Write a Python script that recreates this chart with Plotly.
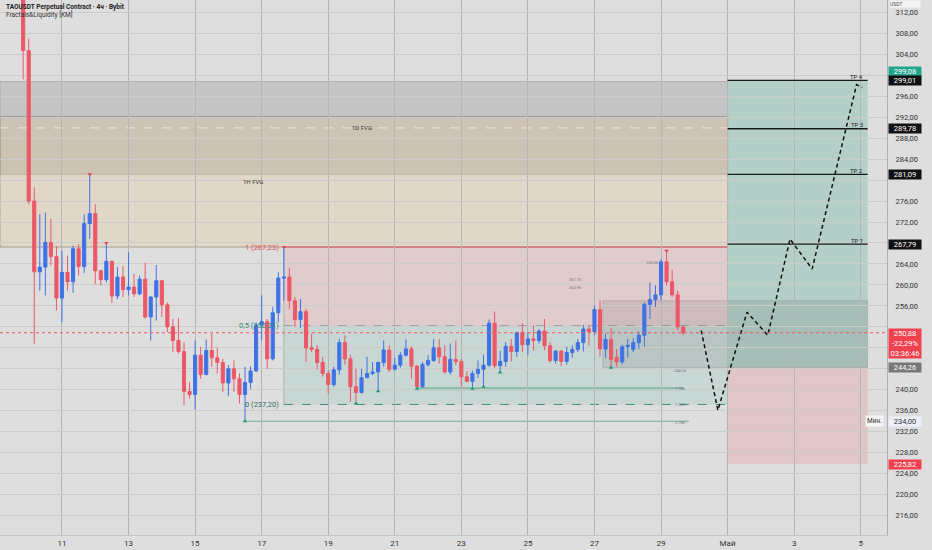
import pandas as pd
import plotly.graph_objects as go

# ---------------- data ----------------
bar_start = "2025-04-09 20:00"
opens = [317.0, 304.7, 276.0, 262.5, 263.4, 268.1, 265.4, 257.5, 262.4, 260.6,
         266.9, 263.5, 271.7, 273.6, 262.7, 261.0, 264.5, 257.9, 261.5, 259.1,
         259.6, 258.3, 261.1, 253.9, 257.7, 260.8, 256.2, 252.0, 249.4, 247.3,
         239.7, 239.1, 246.6, 242.9, 247.5, 246.1, 245.2, 241.3, 244.0, 242.1,
         239.1, 241.4, 243.6, 252.3, 253.0, 245.9, 254.7, 261.3, 261.5, 257.0,
         253.4, 254.9, 248.0, 247.7, 245.2, 243.1, 241.0, 243.8, 249.0, 245.9,
         240.6, 239.5, 242.3, 243.1, 243.4, 245.2, 247.6, 243.9, 244.7, 246.6,
         247.8, 244.5, 240.6, 244.8, 245.6, 248.0, 246.3, 243.4, 245.8, 245.4,
         242.5, 241.6, 243.1, 243.9, 244.7, 252.7, 244.6, 245.4, 248.3, 247.3,
         250.9, 248.6, 249.7, 249.4, 251.2, 248.4, 245.6, 247.4, 245.4, 247.1,
         247.7, 249.0, 251.6, 251.1, 255.3, 247.8, 249.6, 246.2, 245.3, 248.2,
         247.7, 249.0, 250.4, 256.3, 257.2, 258.1, 264.4, 260.6, 258.1, 252.0]
highs = [318.5, 307.0, 278.6, 273.5, 273.8, 272.6, 267.4, 266.5, 265.6, 267.5,
         267.8, 273.5, 281.1, 275.4, 262.9, 268.0, 264.6, 263.4, 263.6, 266.2,
         262.1, 261.8, 264.2, 257.8, 263.8, 260.9, 256.7, 253.5, 253.7, 249.1,
         241.5, 249.4, 248.2, 249.6, 250.7, 248.0, 245.9, 244.7, 245.6, 243.1,
         244.4, 244.5, 252.8, 258.0, 253.5, 255.8, 262.4, 267.23, 263.2, 257.7,
         257.3, 255.4, 250.7, 248.5, 246.3, 243.7, 244.4, 249.7, 250.4, 246.7,
         244.0, 244.0, 246.3, 245.3, 245.4, 249.4, 248.5, 246.1, 247.2, 249.6,
         248.3, 244.7, 245.3, 246.6, 249.7, 249.7, 248.5, 248.8, 249.4, 245.9,
         243.5, 243.7, 245.6, 246.7, 253.4, 254.9, 247.5, 249.1, 249.7, 251.1,
         252.7, 250.9, 252.3, 251.6, 253.5, 249.1, 247.5, 247.5, 248.2, 248.5,
         249.7, 252.4, 252.4, 256.1, 257.0, 250.7, 251.8, 247.8, 248.6, 249.7,
         249.9, 251.1, 256.7, 260.5, 259.9, 264.9, 266.5, 262.9, 258.9, 252.2]
lows = [299.2, 275.4, 248.8, 258.9, 258.0, 263.7, 255.1, 252.9, 258.9, 258.5,
        261.8, 262.3, 268.8, 260.2, 259.9, 260.5, 256.6, 257.3, 257.7, 258.0,
        257.7, 258.0, 253.5, 249.4, 253.2, 253.9, 251.0, 247.2, 246.9, 237.1,
        238.3, 236.3, 242.1, 242.8, 244.4, 243.1, 239.6, 238.8, 239.6, 237.4,
        234.0, 240.2, 243.4, 249.4, 244.0, 245.6, 252.9, 257.0, 255.4, 252.0,
        251.8, 245.3, 247.2, 243.9, 242.5, 239.3, 240.6, 242.9, 244.8, 237.7,
        237.4, 239.3, 242.3, 242.8, 239.7, 244.4, 243.4, 243.7, 244.2, 246.3,
        242.1, 240.2, 240.4, 244.4, 245.3, 245.0, 243.1, 242.9, 244.7, 240.6,
        241.4, 240.2, 242.3, 240.6, 244.4, 244.2, 243.3, 244.4, 245.4, 246.3,
        247.2, 246.6, 247.5, 248.8, 247.5, 245.2, 245.0, 244.5, 244.8, 246.1,
        247.2, 247.3, 248.4, 250.4, 246.3, 246.1, 244.2, 244.4, 244.9, 246.1,
        247.2, 247.8, 248.2, 253.5, 255.8, 257.0, 259.9, 257.7, 251.3, 250.4]
closes = [304.7, 276.0, 262.5, 263.4, 268.1, 265.4, 257.5, 262.4, 260.6, 266.9,
          263.5, 271.7, 273.6, 262.7, 261.0, 264.5, 257.9, 261.5, 259.1, 259.6,
          258.3, 261.1, 253.9, 257.7, 260.8, 256.2, 252.0, 249.4, 247.3, 239.7,
          239.1, 246.6, 242.9, 247.5, 246.1, 245.2, 241.3, 244.0, 242.1, 239.1,
          241.4, 243.6, 252.3, 253.0, 245.9, 254.7, 261.3, 261.5, 257.0, 253.4,
          254.9, 248.0, 247.7, 245.2, 243.1, 241.0, 243.8, 249.0, 245.9, 240.6,
          239.5, 242.3, 243.1, 243.4, 245.2, 247.6, 243.9, 244.7, 246.6, 247.8,
          244.5, 240.6, 244.8, 245.6, 248.0, 246.3, 243.4, 245.8, 245.4, 242.5,
          241.6, 243.1, 243.9, 244.7, 252.7, 244.6, 245.4, 248.3, 247.3, 250.9,
          248.6, 249.7, 249.4, 251.2, 248.4, 245.6, 247.4, 245.4, 247.1, 247.7,
          249.0, 251.6, 251.1, 255.3, 247.8, 249.6, 245.8, 245.3, 248.2, 248.5,
          249.0, 250.4, 256.3, 257.2, 258.1, 264.4, 260.6, 258.1, 252.0, 250.88]

x_range = ["2025-04-09 03:18", "2025-05-05 18:58"]
y_range = [212.3, 314.35]
x_tick_dates = ["2025-04-11", "2025-04-13", "2025-04-15", "2025-04-17", "2025-04-19",
                "2025-04-21", "2025-04-23", "2025-04-25", "2025-04-27", "2025-04-29",
                "2025-05-01", "2025-05-03", "2025-05-05"]
x_tick_text = ["11", "13", "15", "17", "19", "21", "23", "25", "27", "29", "Май", "3", "5"]
y_tick_values = [216, 220, 224, 228, 232, 236, 240, 244, 248, 252, 256, 260, 264,
                 268, 272, 276, 280, 284, 288, 292, 296, 300, 304, 308, 312]
y_tick_hidden = [300, 280, 268, 252, 248, 244]

fvg_1d = [281.1, 298.8]
fvg_1h = [267.23, 292.1]
fvg_end = "2025-05-01 00:00"

fib_prices = [267.23, 252.215, 237.20]
fib_labels = ["1 (267,23)", "0,5 (252,21)", "0 (237,20)"]
fib_start = "2025-04-17 16:00"
fib_end = "2025-05-01 00:00"

pos_start = "2025-05-01 00:00"
pos_end = "2025-05-05 05:00"
entry_price = 244.26
stop_price = 225.82
tp_prices = [267.79, 281.09, 289.78, 299.01]
tp_labels = ["TP 1", "TP 2", "TP 3", "TP 4"]
tp_label_time = "2025-05-04 21:00"

ob_start = "2025-04-27 06:00"
ob_range = [244.26, 257.0]

last_price = 250.88
min_price = 234.0

proj_times = ["2025-04-30 05:00", "2025-04-30 17:00", "2025-05-01 14:00", "2025-05-02 05:00",
              "2025-05-02 21:00", "2025-05-03 13:00", "2025-05-04 21:00", "2025-05-05 01:00"]
proj_prices = [251.3, 236.1, 254.8, 250.4, 268.75, 263.05, 298.2, 297.65]

liq_prices = [240.2, 234.0]
liq_starts = ["2025-04-21 16:00", "2025-04-16 12:00"]
liq_ends = ["2025-04-29 16:00", "2025-04-29 20:00"]
liq_widths = [3, 1]

frac_high_bars = [12, 15, 47, 116]
frac_low_bars = [40, 60, 64, 71, 81, 83, 86, 106]

small_label_times = ["2025-04-26 10:00", "2025-04-26 10:00", "2025-04-28 18:00",
                     "2025-04-29 14:00", "2025-04-29 14:00", "2025-04-29 14:00", "2025-04-29 14:00"]
small_label_prices = [261.0, 259.6, 264.2, 243.6, 240.2, 237.2, 233.8]
small_label_text = ["261.75", "263.96", "256.06", "244.26", "1.786", "2.386", "2.786"]

# ---------------- figure ----------------
times = pd.date_range(bar_start, periods=len(opens), freq="4h")
BG = "#dedede"
FONT = "Roboto"

fig = go.Figure()

fig.add_trace(go.Candlestick(
    x=times, open=opens, high=highs, low=lows, close=closes,
    increasing=dict(line=dict(color="#3f72e4", width=1), fillcolor="#3f72e4"),
    decreasing=dict(line=dict(color="#ec5866", width=1), fillcolor="#ec5866"),
    whiskerwidth=0, showlegend=False, hoverinfo="skip"))

# projection path
fig.add_trace(go.Scatter(x=proj_times, y=proj_prices, mode="lines",
                         line=dict(color="#111111", width=1.5, dash="4px,3px"),
                         showlegend=False, hoverinfo="skip"))

# fractal markers
fig.add_trace(go.Scatter(x=[times[i] for i in frac_high_bars], y=[highs[i] for i in frac_high_bars],
                         mode="markers", marker=dict(symbol="triangle-down", size=4, color="#e04455"),
                         showlegend=False, hoverinfo="skip"))
fig.add_trace(go.Scatter(x=[times[i] for i in frac_low_bars], y=[lows[i] for i in frac_low_bars],
                         mode="markers", marker=dict(symbol="triangle-up", size=4, color="#1f9a70"),
                         showlegend=False, hoverinfo="skip"))

shapes = []
# FVG zones
shapes.append(dict(type="rect", xref="x", yref="y", x0=x_range[0], x1=fvg_end,
                   y0=fvg_1d[0], y1=fvg_1d[1], fillcolor="rgba(110,110,110,0.22)",
                   line=dict(color="rgba(120,120,120,0.35)", width=1), layer="below"))
shapes.append(dict(type="rect", xref="x", yref="y", x0=x_range[0], x1=fvg_end,
                   y0=fvg_1h[0], y1=fvg_1h[1], fillcolor="rgba(240,190,120,0.2)",
                   line=dict(color="rgba(110,95,80,0.45)", width=1), layer="below"))
shapes.append(dict(type="line", xref="x", yref="y", x0=x_range[0], x1=fvg_end,
                   y0=sum(fvg_1d) / 2, y1=sum(fvg_1d) / 2,
                   line=dict(color="rgba(255,255,255,0.6)", width=1, dash="dash"), layer="below"))
# fib zones
shapes.append(dict(type="rect", xref="x", yref="y", x0=fib_start, x1=fib_end,
                   y0=fib_prices[1], y1=fib_prices[0], fillcolor="rgba(242,54,69,0.11)",
                   line=dict(width=0), layer="below"))
shapes.append(dict(type="rect", xref="x", yref="y", x0=fib_start, x1=fib_end,
                   y0=fib_prices[2], y1=fib_prices[1], fillcolor="rgba(8,153,129,0.1)",
                   line=dict(width=0), layer="below"))
shapes.append(dict(type="line", xref="x", yref="y", x0=fib_start, x1=fib_end,
                   y0=fib_prices[0], y1=fib_prices[0], line=dict(color="#d9505e", width=1), layer="below"))
shapes.append(dict(type="line", xref="x", yref="y", x0=fib_start, x1=fib_end,
                   y0=fib_prices[1], y1=fib_prices[1], line=dict(color="#8a9a96", width=1, dash="dash"),
                   layer="below"))
shapes.append(dict(type="line", xref="x", yref="y", x0=fib_start, x1=fib_end,
                   y0=fib_prices[2], y1=fib_prices[2], line=dict(color="#3f8d7a", width=1, dash="dash"),
                   layer="below"))
shapes.append(dict(type="line", xref="x", yref="y", x0=fib_start, x1=fib_start,
                   y0=fib_prices[2], y1=fib_prices[0], line=dict(color="rgba(120,120,120,0.4)", width=1),
                   layer="below"))
# liquidity lines
for p, s, e, w in zip(liq_prices, liq_starts, liq_ends, liq_widths):
    shapes.append(dict(type="line", xref="x", yref="y", x0=s, x1=e, y0=p, y1=p,
                       line=dict(color="rgba(40,150,110,0.45)" if w > 1 else "rgba(40,140,110,0.6)", width=w),
                       layer="below"))
# position boxes
shapes.append(dict(type="rect", xref="x", yref="y", x0=pos_start, x1=pos_end,
                   y0=entry_price, y1=tp_prices[-1], fillcolor="rgba(40,160,130,0.23)",
                   line=dict(width=0), layer="below"))
shapes.append(dict(type="rect", xref="x", yref="y", x0=pos_start, x1=pos_end,
                   y0=stop_price, y1=entry_price, fillcolor="rgba(242,54,69,0.15)",
                   line=dict(width=0), layer="below"))
# order block
shapes.append(dict(type="rect", xref="x", yref="y", x0=ob_start, x1=pos_end,
                   y0=ob_range[0], y1=ob_range[1], fillcolor="rgba(90,90,90,0.14)",
                   line=dict(color="rgba(90,90,90,0.2)", width=1), layer="below"))
# TP lines
for p in tp_prices:
    shapes.append(dict(type="line", xref="x", yref="y", x0=pos_start, x1=pos_end, y0=p, y1=p,
                       line=dict(color="#1a1a1a", width=1.4)))
# last price line
shapes.append(dict(type="line", xref="paper", yref="y", x0=0, x1=1, y0=last_price, y1=last_price,
                   line=dict(color="#ee5a67", width=1, dash="dot")))

annotations = []
annotations.append(dict(xref="paper", yref="paper", x=0.004, y=0.999, xanchor="left", yanchor="top",
                        text="<b>TAOUSDT Perpetual Contract · 4ч · Bybit</b>", showarrow=False,
                        font=dict(family=FONT, size=6.5, color="#222")))
annotations.append(dict(xref="paper", yref="paper", x=0.004, y=0.985, xanchor="left", yanchor="top",
                        text="Fractals&Liquidity [KM]", showarrow=False,
                        font=dict(family=FONT, size=6.5, color="#333")))
annotations.append(dict(xref="x", yref="y", x="2025-04-20 00:00", y=sum(fvg_1d) / 2, text="1D FVG",
                        showarrow=False, font=dict(family=FONT, size=6, color="#333")))
annotations.append(dict(xref="x", yref="y", x="2025-04-16 18:00", y=sum(fvg_1h) / 2, text="1H FVG",
                        showarrow=False, font=dict(family=FONT, size=6, color="#333")))
for p, t, c in zip(fib_prices, fib_labels, ["#e04b5a", "#2e8b74", "#2f6f62"]):
    annotations.append(dict(xref="x", yref="y", x=fib_start, y=p, text=t, xanchor="right", xshift=-3,
                            showarrow=False, font=dict(family=FONT, size=7.5, color=c)))
for p, t in zip(tp_prices, tp_labels):
    annotations.append(dict(xref="x", yref="y", x=tp_label_time, y=p, text=t, yshift=4,
                            showarrow=False, font=dict(family=FONT, size=6, color="#222")))
for tx, p, t in zip(small_label_times, small_label_prices, small_label_text):
    annotations.append(dict(xref="x", yref="y", x=tx, y=p, text=t, showarrow=False,
                            font=dict(family=FONT, size=4, color="#777")))


def axis_label(price, text, bg, fg="white", yshift=0, yanchor="middle"):
    annotations.append(dict(xref="paper", yref="y", x=1, y=price, xanchor="left", yanchor=yanchor,
                            xshift=1, yshift=yshift, text=text, showarrow=False, bgcolor=bg,
                            width=32, align="center", borderpad=0,
                            font=dict(family=FONT, size=7.5, color=fg)))


axis_label(299.08, "299,08", "#22a58c", yshift=9)
axis_label(tp_prices[3], "299,01", "#111111")
axis_label(tp_prices[2], "289,78", "#111111")
axis_label(tp_prices[1], "281,09", "#111111")
axis_label(tp_prices[0], "267,79", "#111111")
axis_label(last_price, "250,88<br>-22,29%<br>03:36:46", "#f0414f", yshift=5, yanchor="top")
axis_label(entry_price, "244,26", "#777777")
axis_label(min_price, "234,00", "#eceef8", fg="#333")
axis_label(stop_price, "225,82", "#f0414f")
annotations.append(dict(xref="paper", yref="y", x=1, y=min_price, xanchor="right", xshift=-3,
                        text="Мин.", showarrow=False, bgcolor="#f5f5f5", borderpad=1,
                        font=dict(family=FONT, size=6.5, color="#333")))
annotations.append(dict(xref="paper", yref="paper", x=1, y=1, xanchor="left", yanchor="top",
                        xshift=2, text="USDT", showarrow=False, bgcolor="#f6f6f6", width=30,
                        align="left", borderpad=0, font=dict(family=FONT, size=5, color="#444")))

y_tick_text = ["" if v in y_tick_hidden else f"{v:.2f}".replace(".", ",") for v in y_tick_values]

fig.update_layout(
    width=932, height=550,
    margin=dict(l=0, r=45, t=0, b=15),
    paper_bgcolor=BG, plot_bgcolor=BG,
    font=dict(family=FONT, size=8, color="#333"),
    shapes=shapes, annotations=annotations,
    showlegend=False, hovermode=False, boxgap=0.2,
    xaxis=dict(type="date", range=x_range, rangeslider=dict(visible=False),
               tickvals=x_tick_dates, ticktext=x_tick_text, showgrid=True,
               gridcolor="#b4b4b4", gridwidth=1, zeroline=False, ticks="",
               tickfont=dict(family=FONT, size=8, color="#333"),
               showline=True, linecolor="#c4c4c4"),
    yaxis=dict(side="right", range=y_range, tickvals=y_tick_values, ticktext=y_tick_text,
               showgrid=True, gridcolor="#cbcbcb", gridwidth=1, zeroline=False, ticks="",
               ticklabelstandoff=6, tickfont=dict(family=FONT, size=7.5, color="#333"),
               showline=True, linecolor="#b0b0b0"),
)

fig.write_html("out.html",
               config={"displayModeBar": False, "staticPlot": True},
               post_script="document.body.style.margin='0';document.body.style.overflow='hidden';")
